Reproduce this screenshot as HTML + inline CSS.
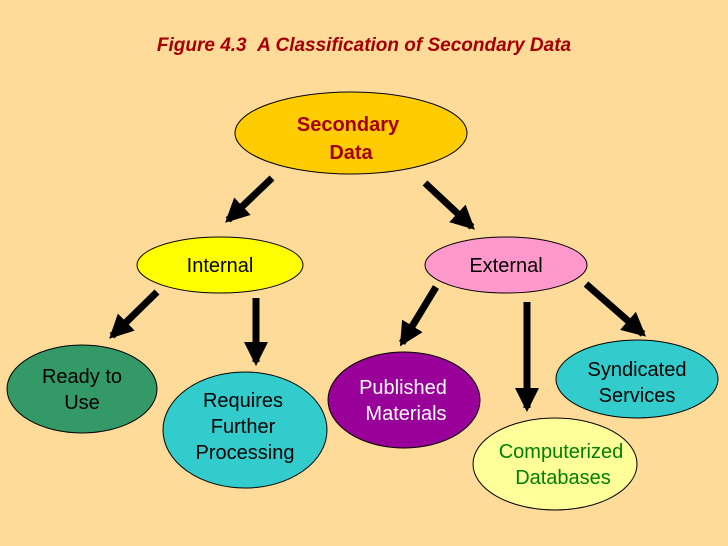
<!DOCTYPE html>
<html><head><meta charset="utf-8"><style>
html,body{margin:0;padding:0;background:#FFDB99;}
svg{display:block;}
text{font-family:"Liberation Sans",Arial,sans-serif;}
</style></head><body>
<svg width="728" height="546" viewBox="0 0 728 546" xmlns="http://www.w3.org/2000/svg">
<defs>
<marker id="a" markerUnits="userSpaceOnUse" markerWidth="28" markerHeight="28" refX="20" refY="12" orient="auto">
<path d="M0,0 L24,12 L0,24 Z" fill="#000"/>
</marker>
</defs>
<rect width="728" height="546" fill="#FFDB99"/>
<text x="364" y="51" text-anchor="middle" font-size="19" font-weight="bold" font-style="italic" fill="#A50000">Figure 4.3 &#160;A Classification of Secondary Data</text>
<g stroke="#000" stroke-width="7" marker-end="url(#a)">
<line x1="272" y1="178" x2="228" y2="220"/>
<line x1="425" y1="183" x2="472" y2="227"/>
<line x1="157" y1="292" x2="112" y2="336"/>
<line x1="256" y1="298" x2="256" y2="362"/>
<line x1="436" y1="287" x2="402" y2="343"/>
<line x1="527" y1="302" x2="527" y2="408"/>
<line x1="586" y1="284" x2="643" y2="334"/>
</g>
<g stroke="#000" stroke-width="1">
<ellipse cx="351" cy="133" rx="116" ry="41" fill="#FFCC00"/>
<ellipse cx="220" cy="265" rx="83" ry="28" fill="#FFFF00"/>
<ellipse cx="506" cy="265" rx="81" ry="28" fill="#FF99CC"/>
<ellipse cx="82" cy="389" rx="75" ry="44" fill="#339966"/>
<ellipse cx="245" cy="430" rx="82" ry="58" fill="#33CCCC"/>
<ellipse cx="404" cy="400" rx="76" ry="48" fill="#990099"/>
<ellipse cx="637" cy="379" rx="81" ry="39" fill="#33CCCC"/>
<ellipse cx="555" cy="464" rx="82" ry="46" fill="#FFFF99"/>
</g>
<g font-size="20" text-anchor="middle">
<text x="348" y="131" font-weight="bold" fill="#A50000">Secondary</text>
<text x="351" y="159" font-weight="bold" fill="#A50000">Data</text>
<text x="220" y="272" fill="#000">Internal</text>
<text x="506" y="272" fill="#000">External</text>
<text x="82" y="383" fill="#000">Ready to</text>
<text x="82" y="409" fill="#000">Use</text>
<text x="243" y="407" fill="#000">Requires</text>
<text x="243" y="433" fill="#000">Further</text>
<text x="245" y="459" fill="#000">Processing</text>
<text x="403" y="394" fill="#fff">Published</text>
<text x="406" y="420" fill="#fff">Materials</text>
<text x="637" y="376" fill="#000">Syndicated</text>
<text x="637" y="402" fill="#000">Services</text>
<text x="561" y="458" fill="#008000">Computerized</text>
<text x="563" y="484" fill="#008000">Databases</text>
</g>
</svg>
</body></html>
